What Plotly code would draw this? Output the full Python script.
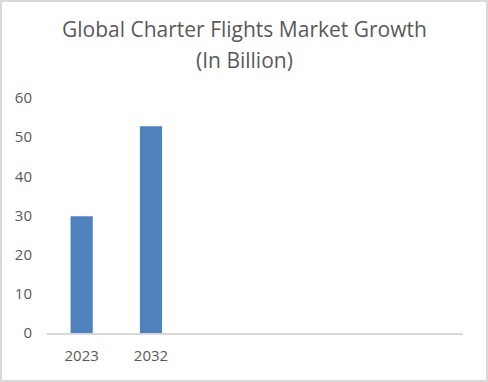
import plotly.graph_objects as go

categories = ["2023", "2032"]
values = [29.8, 52.8]
y_ticks = [0, 10, 20, 30, 40, 50, 60]
title_lines = ["Global Charter Flights Market Growth", "(In Billion)"]

W, H = 488, 382
ml, mr, mt, mb = 47, 25, 98, 49
pw, ph = W - ml - mr, H - mt - mb

def px_x(x):
    return (x - ml) / pw

def px_y(y):
    return (H - mb - y) / ph

fig = go.Figure()
fig.add_trace(go.Bar(
    x=categories, y=values,
    marker=dict(color="#4f81bd", line=dict(width=0)),
    width=0.32,
))

title_font = dict(family="Open Sans, Lato, sans-serif", size=21, color="#595959")
annotations = [
    dict(text=t, xref="paper", yref="paper", x=px_x(244), y=px_y(py),
         xanchor="center", yanchor="middle", showarrow=False, font=title_font)
    for t, py in zip(title_lines, [29, 60])
]

fig.update_layout(
    width=W, height=H,
    margin=dict(l=ml, r=mr, t=mt, b=mb),
    paper_bgcolor="white", plot_bgcolor="white",
    showlegend=False,
    annotations=annotations,
    xaxis=dict(
        type="category", range=[-0.5, 5.5],
        showgrid=False, showline=True, linecolor="#d9d9d9", linewidth=1.5,
        ticks="", ticklabelstandoff=8,
        tickfont=dict(family="Open Sans, sans-serif", size=15, color="#595959"),
        fixedrange=True,
    ),
    yaxis=dict(
        range=[0, 60], tickvals=y_ticks, showgrid=False, zeroline=False,
        showline=False, ticks="", ticklabelstandoff=14,
        tickfont=dict(family="Open Sans, sans-serif", size=15, color="#595959"),
        fixedrange=True,
    ),
    shapes=[dict(
        type="rect", xref="paper", yref="paper",
        x0=px_x(1), x1=px_x(W - 1), y0=px_y(H - 1), y1=px_y(1),
        line=dict(color="#d9d9d9", width=2), fillcolor="rgba(0,0,0,0)", layer="below",
    )],
)

fig.write_html(
    "out.html",
    config={"displayModeBar": False},
    post_script="document.body.style.margin='0';document.body.style.overflow='hidden';",
)
